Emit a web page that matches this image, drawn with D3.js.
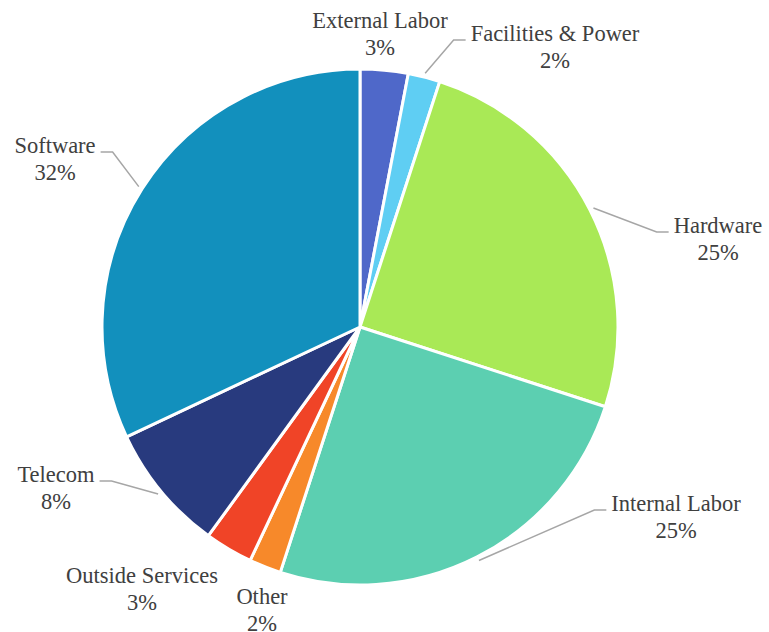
<!DOCTYPE html>
<html>
<head>
<meta charset="utf-8">
<script src="https://cdn.jsdelivr.net/npm/d3@7"></script>
</head>
<body style="margin:0;background:#ffffff">
<svg id="chart" width="769" height="632" style="display:block"></svg>
<script>
// Spending by category, in percent of the total
const categories = ["External Labor", "Facilities & Power", "Hardware", "Internal Labor",
                    "Other", "Outside Services", "Telecom", "Software"];
const shares = [3, 2, 25, 25, 2, 3, 8, 32];
const colors = ["#4f68c9", "#5fcef3", "#a9e956", "#5ccfb1",
                "#f7892a", "#f04427", "#283a7e", "#1290bd"];

// Label anchor (center x, first-line baseline y) and which side the leader enters from
const labelLayout = [
  { x: 380, y: 28,  leader: false },
  { x: 555, y: 41,  leader: true, side: "left" },
  { x: 718, y: 233, leader: true, side: "left" },
  { x: 676, y: 511, leader: true, side: "left" },
  { x: 262, y: 604, leader: false },
  { x: 142, y: 583, leader: false },
  { x: 56,  y: 482, leader: true, side: "right" },
  { x: 55,  y: 153, leader: true, side: "right" }
];

const svg = d3.select("#chart");
const cx = 360, cy = 327, radius = 258;
const fontSize = 22.5, lineGap = 27;

const pie = d3.pie().sort(null).value(d => d)
  .startAngle(0).endAngle(2 * Math.PI);
const arcs = pie(shares);
const arc = d3.arc().innerRadius(0).outerRadius(radius);

const g = svg.append("g").attr("transform", `translate(${cx},${cy})`);

g.selectAll("path.slice")
  .data(arcs)
  .join("path")
  .attr("class", "slice")
  .attr("d", arc)
  .attr("fill", (d, i) => colors[i])
  .attr("stroke", "#ffffff")
  .attr("stroke-width", 3)
  .attr("stroke-linejoin", "round");

const total = d3.sum(shares);
const leaderArc = d3.arc().innerRadius(radius + 4).outerRadius(radius + 4);

// Two-line labels: category name above its percentage
function addText(x, y, str) {
  const t = svg.append("text")
    .attr("x", x).attr("y", y)
    .attr("text-anchor", "middle")
    .attr("fill", "#404040")
    .text(str);
  t.node().style.setProperty("font-family", '"Liberation Serif", "Times New Roman", serif', "important");
  t.node().style.setProperty("font-size", fontSize + "px", "important");
  return t;
}

arcs.forEach((a, i) => {
  const lay = labelLayout[i];
  const t1 = addText(lay.x, lay.y, categories[i]);
  addText(lay.x, lay.y + lineGap, Math.round(a.data / total * 100) + "%");

  if (lay.leader) {
    const w = t1.node().getComputedTextLength();
    const ly = lay.y - 1;
    const endX = lay.side === "left" ? lay.x - w / 2 - 5 : lay.x + w / 2 + 5;
    const elbowX = lay.side === "left" ? endX - 12 : endX + 12;
    const c = leaderArc.centroid(a);
    const start = [cx + c[0], cy + c[1]];
    svg.append("polyline")
      .attr("points", [start, [elbowX, ly], [endX, ly]].map(p => p.join(",")).join(" "))
      .attr("fill", "none")
      .attr("stroke", "#a6a6a6")
      .attr("stroke-width", 1.5);
  }
});
</script>
</body>
</html>
